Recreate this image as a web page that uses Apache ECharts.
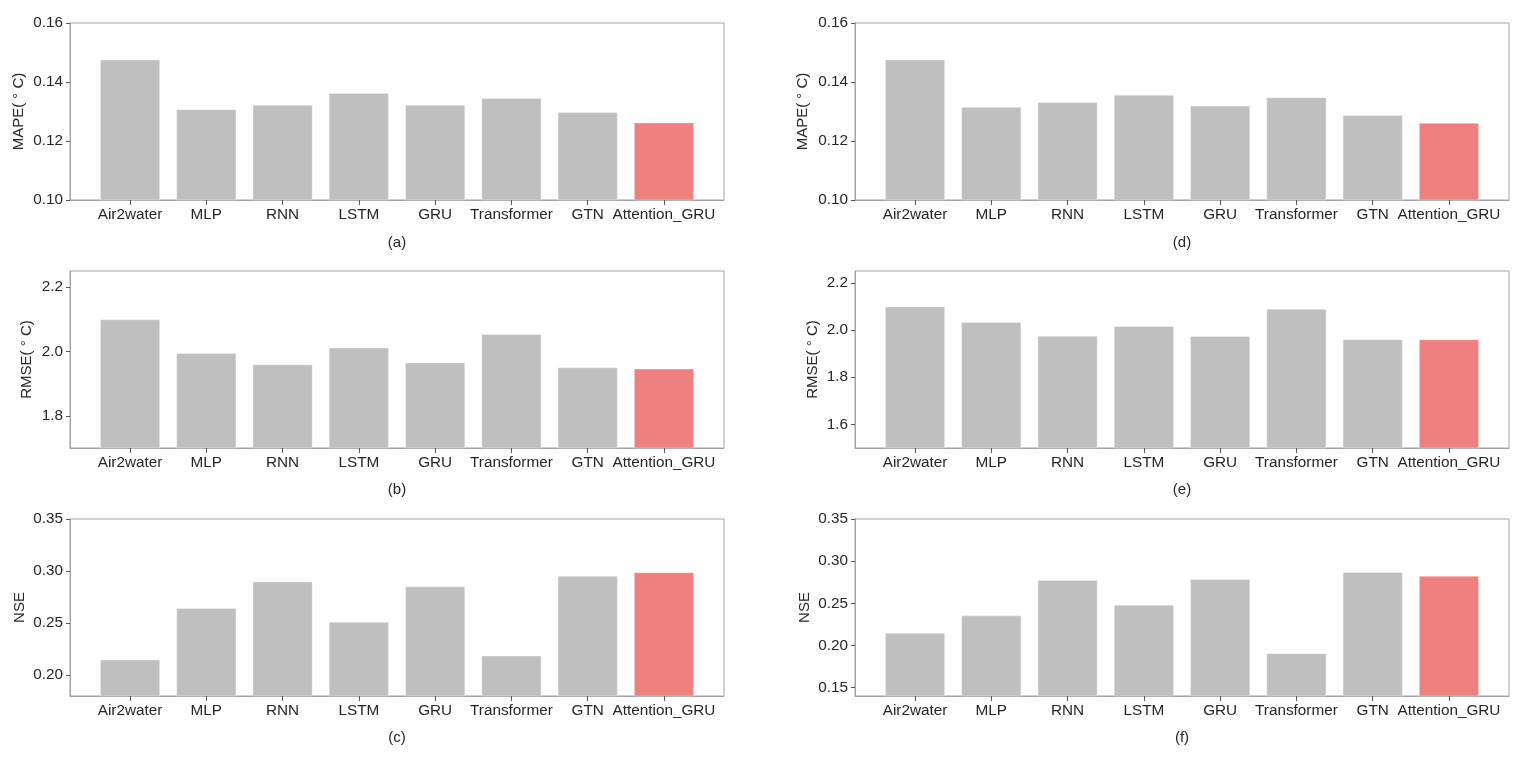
<!DOCTYPE html>
<html>
<head>
<meta charset="utf-8">
<script src="https://cdn.jsdelivr.net/npm/echarts@6/dist/echarts.min.js"></script>
<style>
html,body{margin:0;padding:0;background:#fff;}
#chart{width:1525px;height:758px;}
</style>
</head>
<body>
<div id="chart"></div>
<script>
// ---- data ----
const categories = ['Air2water','MLP','RNN','LSTM','GRU','Transformer','GTN','Attention_GRU'];
const highlight = 'Attention_GRU';

const mapeA = [0.1476,0.1308,0.1323,0.1363,0.1323,0.1346,0.1298,0.1263];
const rmseB = [2.100,1.995,1.960,2.012,1.966,2.054,1.951,1.947];
const nseC  = [0.215,0.2645,0.290,0.2513,0.2853,0.2189,0.2955,0.2988];
const mapeD = [0.1476,0.1316,0.1332,0.1357,0.1320,0.1348,0.1288,0.1262];
const rmseE = [2.100,2.034,1.976,2.017,1.975,2.090,1.961,1.961];
const nseF  = [0.215,0.2357,0.2777,0.2484,0.2789,0.1908,0.2872,0.2828];

const mapeTicks  = [0.10,0.12,0.14,0.16];
const rmseTicksB = [1.8,2.0,2.2];
const rmseTicksE = [1.6,1.8,2.0,2.2];
const nseTicksC  = [0.20,0.25,0.30,0.35];
const nseTicksF  = [0.15,0.20,0.25,0.30,0.35];

const panelLabels = ['(a)','(b)','(c)','(d)','(e)','(f)'];
const yNames = ['MAPE( ° C)','RMSE( ° C)','NSE','MAPE( ° C)','RMSE( ° C)','NSE'];

// ---- panels ----
const panels = [
  {values: mapeA, ticks: mapeTicks,  range: [0.10,0.16], dec: 2},
  {values: rmseB, ticks: rmseTicksB, range: [1.70,2.25], dec: 1},
  {values: nseC,  ticks: nseTicksC,  range: [0.18,0.35], dec: 2},
  {values: mapeD, ticks: mapeTicks,  range: [0.10,0.16], dec: 2},
  {values: rmseE, ticks: rmseTicksE, range: [1.50,2.25], dec: 1},
  {values: nseF,  ticks: nseTicksF,  range: [0.14,0.35], dec: 2}
];

// layout
const lefts = [70, 855];
const tops = [23, 271, 519];
const heights = [177, 177, 177];
const gridW = 654;
const labelCenterY = [242.5, 490, 737.5];
const nameGaps = [44, 36, 43, 45, 35, 43];
const xPad = 0.787;

const FONT = "'Liberation Sans', Arial, sans-serif";
const TXT = '#262626';
const LINE = '#a3a3a3';
const TICK = '#555';
const GRAY = '#bfbfbf';
const RED = '#f08080';

const grid = [], xAxis = [], yAxis = [], series = [], graphic = [];
const idx = categories.map((c, k) => k);
panels.forEach((p, i) => {
  const col = Math.floor(i / 3), row = i % 3;
  grid.push({
    left: lefts[col], top: tops[row], width: gridW, height: heights[row],
    show: true, borderColor: LINE, borderWidth: 1, backgroundColor: 'transparent'
  });
  graphic.push({
    type: 'text', x: lefts[col] + gridW / 2, y: labelCenterY[row], silent: true,
    style: {text: panelLabels[i], fill: TXT, font: "15px 'Liberation Sans', Arial, sans-serif",
            textAlign: 'center', textVerticalAlign: 'middle'}
  });
  xAxis.push({
    type: 'value', gridIndex: i, min: -xPad, max: categories.length - 1 + xPad,
    splitLine: {show: false},
    axisLine: {show: true, onZero: false, lineStyle: {color: LINE, width: 1}},
    axisTick: {show: true, interval: 0, customValues: idx, length: 5, lineStyle: {color: TICK, width: 1}},
    axisLabel: {
      interval: 0, customValues: idx, margin: 7, color: TXT, fontFamily: FONT, fontSize: 15.3,
      formatter: v => categories[Math.round(v)] || ''
    }
  });
  yAxis.push({
    type: 'value', gridIndex: i, min: p.range[0], max: p.range[1],
    splitLine: {show: false},
    axisLine: {show: true, onZero: false, lineStyle: {color: LINE, width: 1}},
    axisTick: {show: true, customValues: p.ticks, length: 4, lineStyle: {color: TICK}},
    axisLabel: {
      customValues: p.ticks, margin: 7, color: TXT, fontFamily: FONT, fontSize: 15.3,
      formatter: v => Number(v).toFixed(p.dec)
    },
    name: yNames[i], nameLocation: 'middle', nameGap: nameGaps[i],
    nameTextStyle: {color: TXT, fontFamily: FONT, fontSize: 15}
  });
  series.push({
    type: 'bar', xAxisIndex: i, yAxisIndex: i, barWidth: '79%',
    clip: true, silent: true,
    data: p.values.map((v, k) => ({
      value: [k, v],
      itemStyle: {color: categories[k] === highlight ? RED : GRAY,
                  borderColor: 'rgba(255,255,255,0.35)', borderWidth: 1}
    }))
  });
});
// tick-only companion x axes (one per grid), drawn at the bottom edge
panels.forEach((p, i) => {
  xAxis.push({
    type: 'value', gridIndex: i, position: 'bottom', offset: 0,
    min: -xPad, max: categories.length - 1 + xPad, z: 10,
    splitLine: {show: false},
    axisLine: {show: false, onZero: false},
    axisTick: {show: true, customValues: idx, length: 5, lineStyle: {color: TICK, width: 1}},
    axisLabel: {show: false}
  });
});

const chart = echarts.init(document.getElementById('chart'), null, {renderer: 'canvas'});
chart.setOption({animation: false, backgroundColor: '#fff', grid, xAxis, yAxis, series, graphic});
</script>
</body>
</html>
